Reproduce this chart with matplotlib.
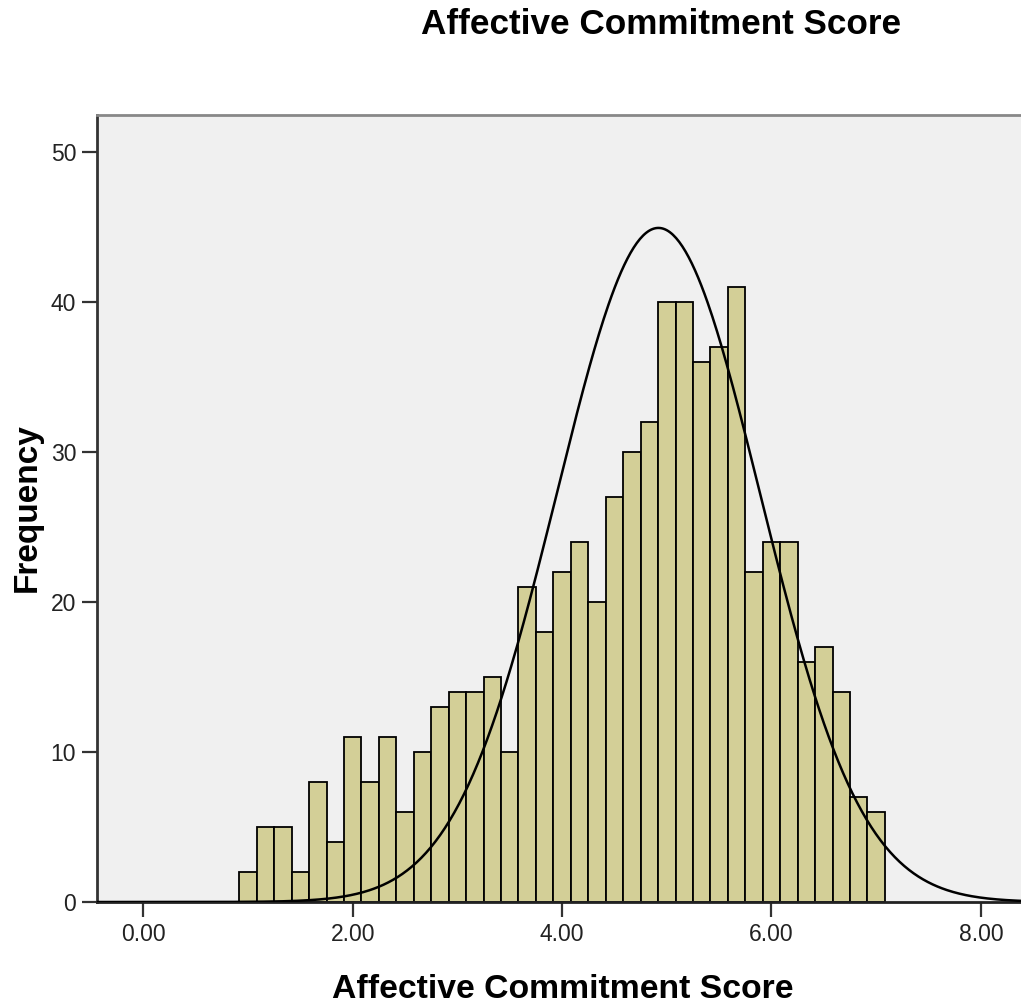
import numpy as np
import matplotlib
matplotlib.use("Agg")
import matplotlib.pyplot as plt

plt.rcParams['font.family'] = ['Liberation Sans', 'DejaVu Sans']

# bin centres are 1.00, 1.17, ... 7.00 (steps of 1/6)
bin_start = 1.0
bin_width = 1 / 6
counts = [2, 5, 5, 2, 8, 4, 11, 8, 11, 6,
          10, 13, 14, 14, 15, 10, 21, 18, 22, 24,
          20, 27, 30, 32, 40, 40, 36, 37, 41, 22,
          24, 24, 16, 17, 14, 7, 6]
mean = 4.92
sd = 0.97
xticks = [0, 2, 4, 6, 8]
yticks = [0, 10, 20, 30, 40, 50]

centres = bin_start + bin_width * np.arange(len(counts))
n = sum(counts)

fig = plt.figure(figsize=(10.21, 10.08), dpi=100)
ax = fig.add_axes([97 / 1021, 106 / 1008, 924 / 1021, 787 / 1008])
ax.set_facecolor('#F0F0F0')

ax.bar(centres, counts, width=bin_width, color='#D3CF97',
       edgecolor='black', linewidth=1.3, zorder=2)

xs = np.linspace(-0.5, 8.5, 600)
ys = n * bin_width / (sd * np.sqrt(2 * np.pi)) * np.exp(-(xs - mean) ** 2 / (2 * sd ** 2))
ax.plot(xs, ys, color='black', linewidth=1.8, zorder=3)

ax.set_xlim(-0.442, 8.383)
ax.set_ylim(0, 52.5)
ax.set_xticks(xticks)
ax.set_xticklabels(["{:.2f}".format(v) for v in xticks])
ax.set_yticks(yticks)
ax.tick_params(axis='both', direction='out', length=11, width=1.6,
               labelsize=16.5, colors='#333333', labelcolor='#222222', pad=4)

ax.spines['right'].set_visible(False)
ax.spines['top'].set_color('#888888')
ax.spines['top'].set_linewidth(2)
ax.spines['left'].set_color('#333333')
ax.spines['left'].set_linewidth(2)
ax.spines['bottom'].set_color('#222222')
ax.spines['bottom'].set_linewidth(2)

fig.text(661 / 1021, 1 - 25 / 1008, "Affective Commitment Score",
         ha='center', va='center', fontsize=25.3, fontweight='bold')
fig.text(563 / 1021, 1 - 990 / 1008, "Affective Commitment Score",
         ha='center', va='center', fontsize=24.3, fontweight='bold')
fig.text(27 / 1021, 1 - 508 / 1008, "Frequency", rotation=90,
         ha='center', va='center', fontsize=24, fontweight='bold')

fig.savefig("out.png", dpi=100)
